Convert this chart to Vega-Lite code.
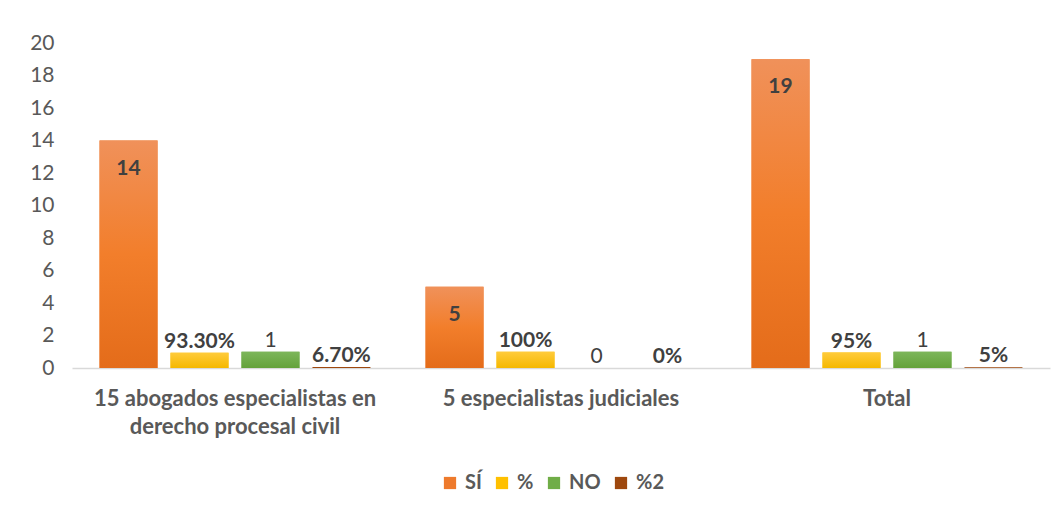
{
  "$schema": "https://vega.github.io/schema/vega-lite/v6.json",
  "width": 978,
  "height": 325,
  "autosize": {"type": "none"},
  "padding": {"left": 72, "top": 43, "right": 13, "bottom": 142},
  "background": "white",
  "config": {
    "font": "Lato",
    "view": {"stroke": null}
  },
  "data": {
    "values": [
      {"grupo": "15 abogados especialistas en derecho procesal civil", "serie": "SÍ", "valor": 14, "etiqueta": "14"},
      {"grupo": "15 abogados especialistas en derecho procesal civil", "serie": "%", "valor": 0.933, "etiqueta": "93.30%"},
      {"grupo": "15 abogados especialistas en derecho procesal civil", "serie": "NO", "valor": 1, "etiqueta": "1"},
      {"grupo": "15 abogados especialistas en derecho procesal civil", "serie": "%2", "valor": 0.067, "etiqueta": "6.70%"},
      {"grupo": "5 especialistas judiciales", "serie": "SÍ", "valor": 5, "etiqueta": "5"},
      {"grupo": "5 especialistas judiciales", "serie": "%", "valor": 1, "etiqueta": "100%"},
      {"grupo": "5 especialistas judiciales", "serie": "NO", "valor": 0, "etiqueta": "0"},
      {"grupo": "5 especialistas judiciales", "serie": "%2", "valor": 0, "etiqueta": "0%"},
      {"grupo": "Total", "serie": "SÍ", "valor": 19, "etiqueta": "19"},
      {"grupo": "Total", "serie": "%", "valor": 0.95, "etiqueta": "95%"},
      {"grupo": "Total", "serie": "NO", "valor": 1, "etiqueta": "1"},
      {"grupo": "Total", "serie": "%2", "valor": 0.05, "etiqueta": "5%"}
    ]
  },
  "encoding": {
    "x": {
      "field": "grupo",
      "type": "nominal",
      "sort": null,
      "scale": {"paddingInner": 0.169, "paddingOuter": 0.0845},
      "axis": {
        "title": null,
        "labelAngle": 0,
        "labelFont": "Lato",
        "labelFontSize": 22,
        "labelFontWeight": "bold",
        "labelColor": "#595959",
        "labelPadding": 20,
        "labelLineHeight": 28,
        "labelLimit": 0,
        "labelExpr": "datum.label == '15 abogados especialistas en derecho procesal civil' ? ['15 abogados especialistas en', 'derecho procesal civil'] : datum.label",
        "ticks": false,
        "domainColor": "#D9D9D9",
        "domainWidth": 1.5
      }
    },
    "xOffset": {
      "field": "serie",
      "type": "nominal",
      "sort": ["SÍ", "%", "NO", "%2"],
      "scale": {"paddingInner": 0.183, "paddingOuter": 0}
    },
    "y": {
      "field": "valor",
      "type": "quantitative",
      "scale": {"domain": [0, 20]},
      "axis": {
        "title": null,
        "values": [0, 2, 4, 6, 8, 10, 12, 14, 16, 18, 20],
        "grid": false,
        "domain": false,
        "ticks": false,
        "labelFont": "Lato",
        "labelFontSize": 21,
        "labelColor": "#595959",
        "labelPadding": 18
      }
    }
  },
  "layer": [
    {
      "mark": {"type": "bar"},
      "encoding": {
        "color": {
          "field": "serie",
          "type": "nominal",
          "scale": {
            "domain": ["SÍ", "%", "NO", "%2"],
            "range": ["#EE7A2C", "#FFC000", "#70AD47", "#9E480E"]
          },
          "legend": {
            "title": null,
            "orient": "none",
            "legendX": 368,
            "legendY": 430,
            "direction": "horizontal",
            "symbolType": "square",
            "symbolSize": 150,
            "symbolStrokeWidth": 0,
            "labelFont": "Lato",
            "labelFontSize": 20,
            "labelFontWeight": "bold",
            "labelColor": "#595959",
            "columnPadding": 10,
            "labelOffset": 5
          }
        }
      }
    },
    {
      "transform": [{"filter": "datum.serie == 'SÍ'"}],
      "mark": {
        "type": "bar",
        "color": {"gradient": "linear", "x1": 0, "y1": 0, "x2": 0, "y2": 1,
          "stops": [{"offset": 0, "color": "#F0915A"}, {"offset": 0.5, "color": "#F27E2B"}, {"offset": 1, "color": "#E46C1A"}]}
      }
    },
    {
      "transform": [{"filter": "datum.serie == '%'"}],
      "mark": {
        "type": "bar",
        "color": {"gradient": "linear", "x1": 0, "y1": 0, "x2": 0, "y2": 1,
          "stops": [{"offset": 0, "color": "#FFCB3B"}, {"offset": 1, "color": "#F5B800"}]}
      }
    },
    {
      "transform": [{"filter": "datum.serie == 'NO'"}],
      "mark": {
        "type": "bar",
        "color": {"gradient": "linear", "x1": 0, "y1": 0, "x2": 0, "y2": 1,
          "stops": [{"offset": 0, "color": "#7DB65A"}, {"offset": 1, "color": "#64A23A"}]}
      }
    },
    {
      "transform": [{"filter": "datum.serie == 'SÍ'"}],
      "mark": {"type": "text", "baseline": "top", "dy": 17, "fontSize": 21, "fontWeight": "bold", "color": "#404040", "font": "Lato"},
      "encoding": {"text": {"field": "etiqueta"}}
    },
    {
      "transform": [{"filter": "datum.serie == '%' || datum.serie == '%2'"}],
      "mark": {"type": "text", "baseline": "bottom", "dy": -1, "fontSize": 21, "fontWeight": "bold", "color": "#404040", "font": "Lato"},
      "encoding": {"text": {"field": "etiqueta"}}
    },
    {
      "transform": [{"filter": "datum.serie == 'NO'"}],
      "mark": {"type": "text", "baseline": "bottom", "dy": -1, "fontSize": 21, "fontWeight": "normal", "color": "#404040", "font": "Lato"},
      "encoding": {"text": {"field": "etiqueta"}}
    }
  ]
}
